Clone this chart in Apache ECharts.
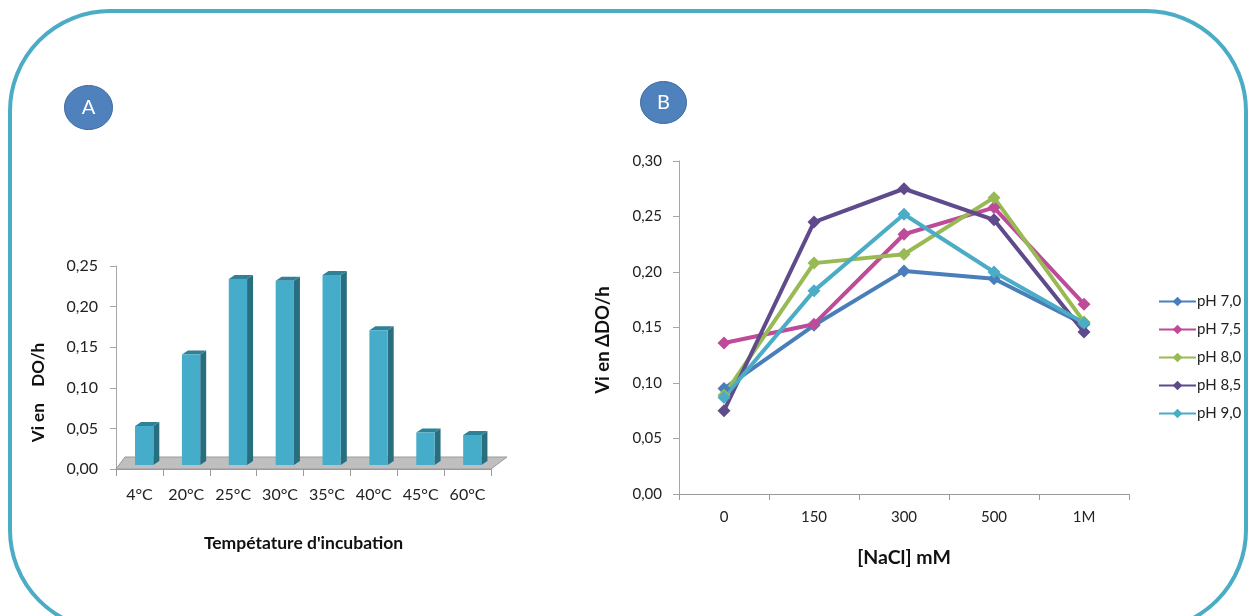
<!DOCTYPE html>
<html>
<head>
<meta charset="utf-8">
<script src="https://cdn.jsdelivr.net/npm/echarts@6/dist/echarts.min.js"></script>
<style>
html,body{margin:0;padding:0;background:#fff;}
#chart{width:1249px;height:616px;}
</style>
</head>
<body>
<div id="chart"></div>
<script>
// ---- Data ----
const tempCategories = ['4°C', '20°C', '25°C', '30°C', '35°C', '40°C', '45°C', '60°C'];
const tempValues = [0.048, 0.136, 0.229, 0.227, 0.234, 0.166, 0.040, 0.037];

const naclCategories = ['0', '150', '300', '500', '1M'];
const pH70 = [0.095, 0.152, 0.201, 0.194, 0.153];
const pH75 = [0.136, 0.153, 0.234, 0.258, 0.171];
const pH80 = [0.089, 0.208, 0.216, 0.267, 0.155];
const pH85 = [0.075, 0.245, 0.275, 0.247, 0.146];
const pH90 = [0.087, 0.183, 0.252, 0.200, 0.154];
const seriesNames = ['pH 7,0', 'pH 7,5', 'pH 8,0', 'pH 8,5', 'pH 9,0'];
const seriesColors = ['#4A7EBB', '#BE4B99', '#98B954', '#5F4B8B', '#4BACC6'];

const yTicksA = [0, 0.05, 0.10, 0.15, 0.20, 0.25];
const yTicksB = [0, 0.05, 0.10, 0.15, 0.20, 0.25, 0.30];

const FONT = 'Lato, "Open Sans", sans-serif';
const fmt = v => v.toFixed(2).replace('.', ',');

const chart = echarts.init(document.getElementById('chart'), null, {renderer: 'canvas'});

const DEPTH_X = 6, DEPTH_Y = 4, LIFT = 4;

function renderFloor(params, api) {
  const cs = params.coordSys;
  const x0 = cs.x, x1 = cs.x + cs.width, yb = cs.y + cs.height;
  return {
    type: 'polygon',
    shape: {points: [[x0, yb], [x1, yb], [x1 + 16, yb - 12], [x0 + 9, yb - 12]]},
    style: {fill: '#BFBFBF', stroke: '#9A9A9A', lineWidth: 1},
    z2: 0
  };
}

function renderBar(params, api) {
  const idx = api.value(0);
  const val = api.value(1);
  const top = api.coord([idx, val]);
  const base = api.coord([idx, 0]);
  const bw = api.size([1, 0])[0];
  const left = top[0] - 0.094 * bw;
  const right = top[0] + 0.296 * bw;
  const yTop = top[1] - LIFT;
  const yBot = base[1] - LIFT;
  return {
    type: 'group',
    children: [
      {type: 'polygon', shape: {points: [[right, yTop], [right + DEPTH_X, yTop - DEPTH_Y], [right + DEPTH_X, yBot - DEPTH_Y], [right, yBot]]},
        style: {fill: '#286E7F'}},
      {type: 'polygon', shape: {points: [[left, yTop], [left + DEPTH_X, yTop - DEPTH_Y], [right + DEPTH_X, yTop - DEPTH_Y], [right, yTop]]},
        style: {fill: '#2E8196'}},
      {type: 'rect', shape: {x: left, y: yTop, width: right - left, height: yBot - yTop},
        style: {fill: '#45ADC9'}}
    ]
  };
}

const option = {
  animation: false,
  backgroundColor: '#ffffff',
  textStyle: {fontFamily: FONT},
  graphic: [
    {type: 'rect', shape: {x: 10, y: 11, width: 1236, height: 619, r: 100},
      style: {fill: 'none', stroke: '#4BACC6', lineWidth: 4}, z: 100},
    {type: 'group', left: 64, top: 85, children: [
      {type: 'ellipse', shape: {cx: 24, cy: 22, rx: 24, ry: 22}, style: {fill: '#4F81BD', stroke: '#3D6A9E', lineWidth: 1}},
      {type: 'text', x: 24, y: 22, style: {text: 'A', fill: '#ffffff', font: '20px ' + FONT, align: 'center', verticalAlign: 'middle'}}
    ]},
    {type: 'group', left: 640, top: 81, children: [
      {type: 'ellipse', shape: {cx: 23, cy: 21, rx: 23, ry: 21}, style: {fill: '#4F81BD', stroke: '#3D6A9E', lineWidth: 1}},
      {type: 'text', x: 23, y: 21, style: {text: 'B', fill: '#ffffff', font: '20px ' + FONT, align: 'center', verticalAlign: 'middle'}}
    ]}
  ],
  legend: {
    data: seriesNames,
    orient: 'vertical',
    left: 1153,
    top: 289,
    itemWidth: 37,
    itemHeight: 12,
    itemGap: 13,
    textStyle: {fontSize: 15, color: '#222', fontFamily: FONT, padding: [0, 0, 0, -4]}
  },
  grid: [
    {left: 116, top: 266, width: 375, height: 203},
    {left: 679, top: 161, width: 450, height: 333}
  ],
  xAxis: [
    {
      gridIndex: 0, type: 'category', data: tempCategories, boundaryGap: true,
      axisLine: {show: true, lineStyle: {color: '#9A9A9A', width: 1}},
      axisTick: {show: true, interval: 0, length: 7, lineStyle: {color: '#9A9A9A'}},
      axisLabel: {interval: 0, margin: 18, fontSize: 16, color: '#222', fontFamily: FONT},
      name: "Tempétature d'incubation", nameLocation: 'middle', nameGap: 65,
      nameTextStyle: {fontSize: 17.5, fontWeight: 'bold', color: '#111', fontFamily: FONT}
    },
    {
      gridIndex: 1, type: 'category', data: naclCategories, boundaryGap: true,
      axisLine: {show: true, lineStyle: {color: '#9A9A9A', width: 1}},
      axisTick: {show: true, interval: 0, length: 6, lineStyle: {color: '#9A9A9A'}},
      axisLabel: {interval: 0, margin: 16, fontSize: 15, color: '#222', fontFamily: FONT},
      name: '[NaCl] mM', nameLocation: 'middle', nameGap: 54,
      nameTextStyle: {fontSize: 19.5, fontWeight: 'bold', color: '#111', fontFamily: FONT}
    }
  ],
  yAxis: [
    {
      gridIndex: 0, type: 'value', min: yTicksA[0], max: yTicksA[yTicksA.length - 1], interval: 0.05,
      splitLine: {show: false},
      axisLine: {show: true, lineStyle: {color: '#A6A6A6', width: 1}},
      axisTick: {show: true, length: 6, lineStyle: {color: '#A6A6A6'}},
      axisLabel: {formatter: fmt, margin: 18, fontSize: 16, color: '#222', fontFamily: FONT},
      name: 'Vi en    DO/h', nameLocation: 'middle', nameGap: 69, nameRotate: 90,
      nameTextStyle: {fontSize: 17, fontWeight: 'bold', color: '#111', fontFamily: FONT, padding: [0, 50, 0, 0]}
    },
    {
      gridIndex: 1, type: 'value', min: yTicksB[0], max: yTicksB[yTicksB.length - 1], interval: 0.05,
      splitLine: {show: false},
      axisLine: {show: true, lineStyle: {color: '#A6A6A6', width: 1}},
      axisTick: {show: true, length: 6, lineStyle: {color: '#A6A6A6'}},
      axisLabel: {formatter: fmt, margin: 17, fontSize: 15, color: '#222', fontFamily: FONT},
      name: 'Vi en ΔDO/h', nameLocation: 'middle', nameGap: 66, nameRotate: 90,
      nameTextStyle: {fontSize: 18.5, fontWeight: 'bold', color: '#111', fontFamily: FONT, padding: [0, 25, 0, 0]}
    }
  ],
  series: [
    {
      type: 'custom', xAxisIndex: 0, yAxisIndex: 0, renderItem: renderFloor,
      data: [[0, 0]], encode: {x: 0, y: 1}, z: 1, silent: true, clip: false
    },
    {
      type: 'custom', xAxisIndex: 0, yAxisIndex: 0, renderItem: renderBar,
      data: tempValues.map((v, i) => [i, v]), encode: {x: 0, y: 1}, z: 2, clip: false
    }
  ].concat([pH70, pH75, pH80, pH85, pH90].map((arr, i) => ({
    name: seriesNames[i], type: 'line', xAxisIndex: 1, yAxisIndex: 1,
    data: arr, symbol: 'diamond', symbolSize: 13, showSymbol: true,
    lineStyle: {width: 4, color: seriesColors[i]},
    itemStyle: {color: seriesColors[i]},
    z: 3
  })))
};

chart.setOption(option);
</script>
</body>
</html>
